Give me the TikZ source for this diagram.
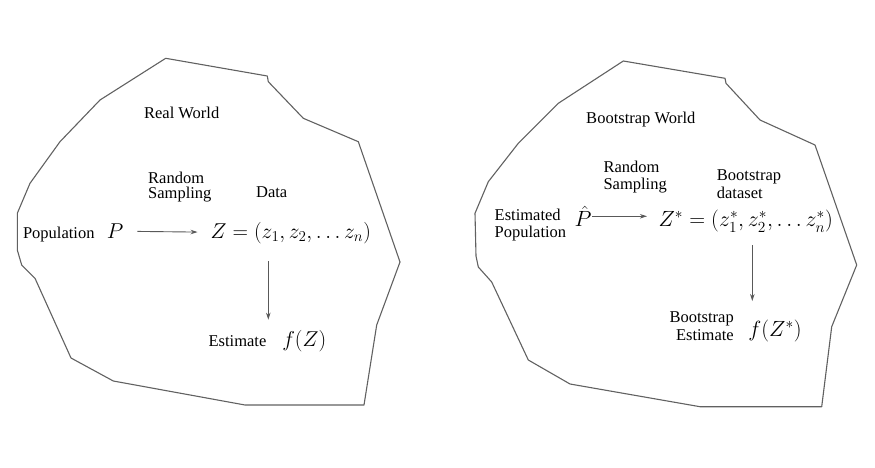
\RequirePackage{fix-cm}
\documentclass[tikz,border=0pt]{standalone}
\usepackage{fontspec}
\setmainfont{Liberation Serif}
\newfontfamily\timesfam{Liberation Serif}
\usetikzlibrary{arrows.meta}
\begin{document}
\begin{tikzpicture}[x=1pt,y=-1pt,
  blob/.style={draw=black!62, line width=1.1pt, line join=round},
  lbl/.style={inner sep=0pt, font=\timesfam\fontsize{16.5}{15}\selectfont},
  lblr/.style={inner sep=0pt, font=\timesfam\fontsize{16.5}{17.7}\selectfont},
  mth/.style={inner sep=0pt, font=\fontsize{21.5}{25}\selectfont},
  mthr/.style={inner sep=0pt, font=\fontsize{22}{25}\selectfont},
  conn/.style={draw=black!65, line width=0.9pt, -{Stealth[length=7pt,width=4.5pt]}}]
\useasboundingbox (0,0) rectangle (875,468);

% ---------- left blob: Real World ----------
\draw[blob] (165.7,58.3) -- (267.3,76) -- (268.3,81.7) -- (303.3,118.3) -- (358.3,141.7)
  -- (400,262) -- (376.7,325) -- (364,405) -- (245,405) -- (113.3,381) -- (71,358)
  -- (35,278.3) -- (21.7,265) -- (17.3,250) -- (17.3,213.3) -- (30,183.3) -- (60,141.7)
  -- (100,100) -- cycle;

\node[lbl, anchor=base] (rw) at (181.7,118.5) {Real World};
\node[lbl, anchor=west, align=left] (rs) at (148,187) {Random\\Sampling};
\node[lbl] (data) at (271.7,191.7) {Data};
\node[lbl, anchor=base] (pop) at (58.8,238.5) {Population};
\node[mth, anchor=base] (P) at (115,238.5) {$P$};
\node[mth, anchor=base] (Z) at (290.8,238.5) {$Z=(z_1,z_2,\ldots z_n)$};
\node[lbl, anchor=base] (est) at (237.5,346) {Estimate};
\node[mth, anchor=base] (fZ) at (304.2,346) {$f(Z)$};
\coordinate (ax) at (268.3,0);

\draw[conn, shorten <=14pt, shorten >=13pt] (P) -- (Z);
\draw[conn, shorten <=17pt, shorten >=10pt] (Z.south -| ax) -- (fZ.north -| ax);

% ---------- right blob: Bootstrap World ----------
\draw[blob] (623.3,61) -- (725,78.3) -- (726,83.3) -- (760,120) -- (815,145)
  -- (856.7,265) -- (831.7,326.7) -- (821.7,406.7) -- (700,406.7) -- (570,384)
  -- (528.3,360) -- (491.7,282) -- (478.3,267) -- (476,256) -- (475,213.3)
  -- (488.3,181.7) -- (518.3,143.3) -- (558.3,103.3) -- cycle;

\node[lbl, anchor=base] (bw) at (640.8,124) {Bootstrap World};
\node[lblr, anchor=west, align=left] (rs2) at (603.3,177) {Random\\Sampling};
\node[lblr, anchor=west, align=left] (bd) at (716.7,184) {Bootstrap\\dataset};
\node[lblr, anchor=west, align=left] (epop) at (494.5,225) {Estimated\\Population};
\node[mthr, anchor=base] (Ph) at (583,226.7) {$\hat{P}$};
\node[mthr, anchor=base] (Zs) at (745.8,226.7) {$Z^*=(z^*_1,z^*_2,\ldots z^*_n)$};
\node[lblr, anchor=east, align=right] (best) at (734,326) {Bootstrap\\Estimate};
\node[mthr, anchor=base] (fZs) at (775,336.7) {$f(Z^*)$};
\coordinate (bx) at (752.3,0);

\draw[conn, shorten <=0.5pt, shorten >=11.5pt] (Ph) -- (Zs.west |- Ph);
\draw[conn, shorten <=13pt, shorten >=19pt] (Zs.south -| bx) -- (fZs.north -| bx);
\end{tikzpicture}
\end{document}
